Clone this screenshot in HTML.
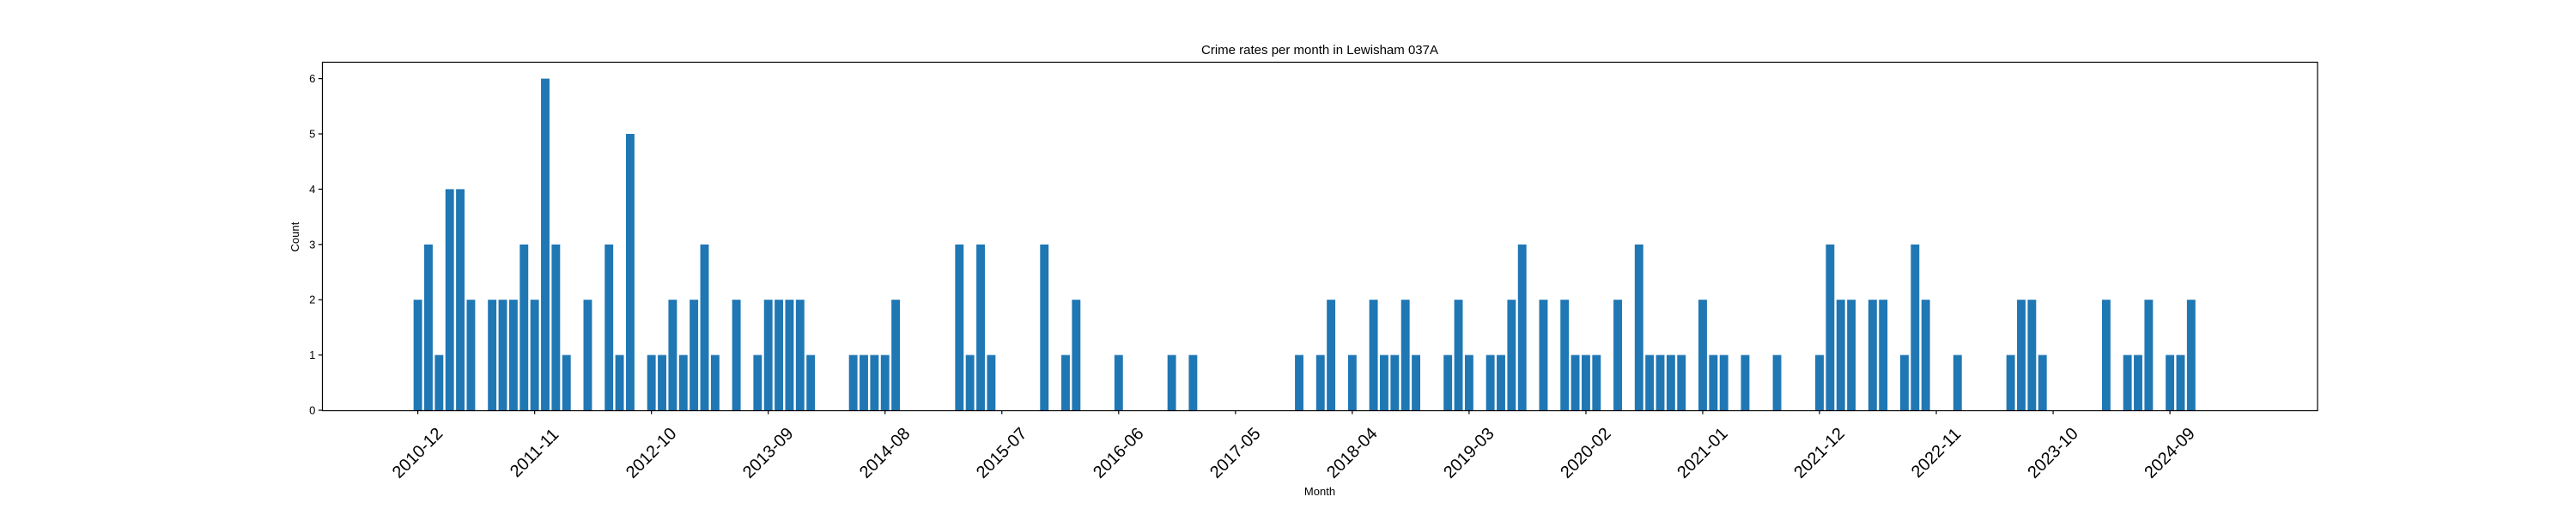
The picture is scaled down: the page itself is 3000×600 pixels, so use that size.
<!DOCTYPE html>
<html><head><meta charset="utf-8"><style>
html,body{margin:0;padding:0;background:#fff;}
svg{display:block;font-family:"Liberation Sans","DejaVu Sans",sans-serif;}
</style></head><body>
<svg id="chart" width="3000" height="600" viewBox="0 0 3000 600" xmlns="http://www.w3.org/2000/svg">
<rect x="0" y="0" width="3000" height="600" fill="#fff"/>
<text x="1537" y="63" font-size="15" text-anchor="middle">Crime rates per month in Lewisham 037A</text>
<g id="bars"></g>
<g id="xticks"></g>
<g id="yticks"></g>
<rect x="375.5" y="72.5" width="2323.5" height="406" fill="none" stroke="#000" stroke-width="1.2"/>
<text x="1537" y="577" font-size="13" text-anchor="middle">Month</text>
<text x="0" y="0" font-size="13" text-anchor="middle" transform="translate(348,276) rotate(-90)">Count</text>
</svg>
<script>
// month index 0 = 2010-12
const barMonths = [0,1,2,3,4,5,7,8,9,10,11,12,13,14,16,18,19,20,22,23,24,25,26,27,28,30,32,33,34,35,36,37,41,42,43,44,45,51,52,53,54,59,61,62,66,71,73,83,85,86,88,90,91,92,93,94,97,98,99,101,102,103,104,106,108,109,110,111,113,115,116,117,118,119,121,122,123,125,128,132,133,134,135,137,138,140,141,142,145,150,151,152,153,159,161,162,163,165,166,167];
const barCounts = [2,3,1,4,4,2,2,2,2,3,2,6,3,1,2,3,1,5,1,1,2,1,2,3,1,2,1,2,2,2,2,1,1,1,1,1,2,3,1,3,1,3,1,2,1,1,1,1,1,2,1,2,1,1,2,1,1,2,1,1,1,2,3,2,2,1,1,1,2,3,1,1,1,1,2,1,1,1,1,1,3,2,2,2,2,1,3,2,1,1,2,2,1,2,1,1,2,1,1,2];
const tickMonths = [0,11,22,33,44,55,66,77,88,99,110,121,132,143,154,165];
const tickLabels = ["2010-12","2011-11","2012-10","2013-09","2014-08","2015-07","2016-06","2017-05","2018-04","2019-03","2020-02","2021-01","2021-12","2022-11","2023-10","2024-09"];
const yTicks = [0,1,2,3,4,5,6];

const NS = "http://www.w3.org/2000/svg";
const X0 = 375.3, X1 = 2699, XMIN = -9.0, XMAX = 178.9;
const Y0 = 478, Y1 = 72.3, YMAX = 6.3;
function xs(m){ return X0 + (m - XMIN) / (XMAX - XMIN) * (X1 - X0); }
function ys(v){ return Y0 - v / YMAX * (Y0 - Y1); }
function mk(tag, attrs){ const e = document.createElementNS(NS, tag); for (const k in attrs) e.setAttribute(k, attrs[k]); return e; }

const bars = document.getElementById('bars');
const bw = 0.8 * (xs(1) - xs(0));
barMonths.forEach((m, i) => {
  const r = mk('rect', {x: xs(m) - bw/2, y: ys(barCounts[i]), width: bw, height: Y0 - ys(barCounts[i]), fill: '#1f77b4'});
  
  
  bars.appendChild(r);
});

const xt = document.getElementById('xticks');
tickMonths.forEach((m, i) => {
  const x = xs(m);
  const l = mk('line', {x1: x, x2: x, y1: Y0, y2: Y0 + 4.5, stroke: '#000', 'stroke-width': 1.2});
  
  
  xt.appendChild(l);
  const t = mk('text', {x: 0, y: 0, 'font-size': 20, 'text-anchor': 'middle', 'dominant-baseline': 'central', transform: 'translate(' + x + ',' + 528 + ') rotate(-45)'});
  t.textContent = tickLabels[i];
  
  
  xt.appendChild(t);
});

const yt = document.getElementById('yticks');
yTicks.forEach(v => {
  const y = ys(v);
  const l = mk('line', {x1: X0 - 4.5, x2: X0, y1: y, y2: y, stroke: '#000', 'stroke-width': 1.2});
  
  
  yt.appendChild(l);
  const t = mk('text', {x: X0 - 8, y: y + 4.5, 'font-size': 13, 'text-anchor': 'end'});
  t.textContent = v;
  
  
  yt.appendChild(t);
});
</script>
</body></html>
